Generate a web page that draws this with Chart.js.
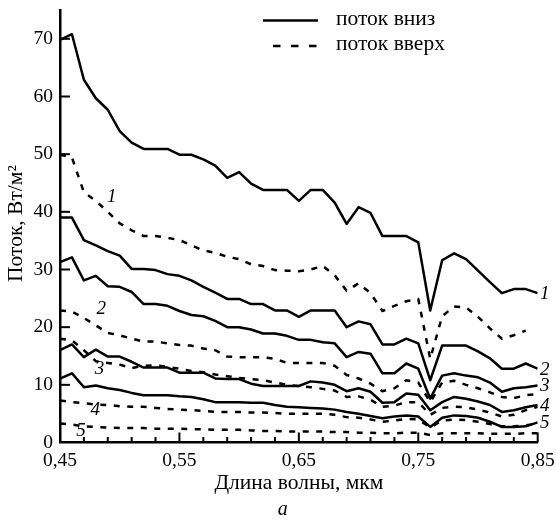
<!DOCTYPE html>
<html>
<head>
<meta charset="utf-8">
<script src="https://cdn.jsdelivr.net/npm/chart.js@4.4.1/dist/chart.umd.min.js"></script>
<style>
  html, body { margin: 0; padding: 0; background: #fff; }
  #grafico { display: block; }
</style>
</head>
<body>
<canvas id="grafico" width="556" height="524"></canvas>
<script>
// Длины волн, мкм (шаг 0,01)
const wavelengths = [0.45, 0.46, 0.47, 0.48, 0.49, 0.50, 0.51, 0.52, 0.53, 0.54,
  0.55, 0.56, 0.57, 0.58, 0.59, 0.60, 0.61, 0.62, 0.63, 0.64,
  0.65, 0.66, 0.67, 0.68, 0.69, 0.70, 0.71, 0.72, 0.73, 0.74,
  0.75, 0.76, 0.77, 0.78, 0.79, 0.80, 0.81, 0.82, 0.83, 0.84, 0.85];

// Поток вниз, Вт/м2
const downFlux1 = [69.8, 70.8, 62.9, 59.7, 57.7, 54.0, 52.0, 50.9, 50.9, 50.9,
  49.9, 49.9, 49.1, 48.0, 45.9, 46.9, 44.9, 43.8, 43.8, 43.8,
  41.9, 43.8, 43.8, 41.6, 37.9, 40.8, 39.8, 35.8, 35.8, 35.8,
  34.7, 22.9, 31.6, 32.8, 31.8, 29.8, 27.8, 25.9, 26.6, 26.6, 25.9];
const downFlux2 = [39.0, 39.0, 35.1, 34.2, 33.2, 32.4, 30.1, 30.1, 29.9, 29.2,
  28.9, 28.1, 27.0, 26.0, 24.9, 24.9, 24.0, 24.0, 22.9, 22.9,
  21.8, 22.9, 22.9, 22.9, 20.0, 21.0, 20.5, 17.0, 17.0, 18.0,
  17.2, 10.8, 16.8, 16.8, 16.8, 15.8, 14.6, 12.8, 12.8, 13.7, 12.8];
const downFlux3 = [31.3, 32.1, 28.1, 28.9, 27.1, 27.0, 26.1, 24.0, 24.0, 23.7,
  22.8, 22.1, 21.9, 21.1, 20.0, 20.0, 19.6, 18.9, 18.9, 18.5,
  17.8, 17.8, 17.4, 17.2, 14.8, 15.7, 15.4, 12.0, 12.0, 13.7,
  12.8, 7.6, 11.6, 12.0, 11.6, 11.3, 10.4, 8.8, 9.4, 9.6, 9.9];
const downFlux4 = [16.0, 17.0, 14.8, 16.1, 14.9, 14.9, 14.0, 13.0, 13.0, 13.0,
  12.1, 12.1, 12.1, 11.1, 11.0, 11.0, 10.2, 9.8, 9.8, 9.8,
  9.8, 10.6, 10.4, 10.0, 8.9, 9.4, 8.8, 6.9, 7.0, 8.5,
  8.3, 5.6, 7.0, 7.9, 7.6, 7.1, 6.5, 5.3, 5.6, 6.1, 6.5];
const downFlux5 = [11.1, 12.0, 9.6, 9.9, 9.4, 9.1, 8.6, 8.2, 8.2, 8.2,
  8.0, 7.9, 7.5, 7.0, 7.0, 7.0, 6.9, 6.9, 6.5, 6.2,
  6.1, 6.0, 5.9, 5.7, 5.3, 5.0, 4.6, 4.2, 4.5, 4.7,
  4.5, 2.7, 4.3, 4.7, 4.6, 4.3, 3.6, 2.7, 2.7, 2.8, 3.5];

// Поток вверх, Вт/м2
const upFlux1 = [49.9, 49.4, 43.4, 41.9, 40.0, 38.0, 36.8, 35.8, 35.8, 35.5,
  35.1, 34.2, 33.3, 32.9, 32.2, 31.8, 30.9, 30.6, 29.9, 29.8,
  29.7, 30.0, 30.6, 29.0, 26.3, 27.6, 25.9, 22.8, 23.7, 24.5,
  24.9, 14.5, 21.9, 23.6, 23.4, 21.8, 19.8, 18.0, 18.6, 19.4, null];
const upFlux2 = [22.9, 22.7, 21.6, 20.3, 19.0, 18.6, 18.0, 17.5, 17.5, 17.2,
  16.9, 16.8, 16.3, 16.0, 14.9, 14.8, 14.8, 14.8, 14.5, 13.8,
  13.8, 13.8, 13.8, 13.3, 11.7, 11.1, 10.2, 8.9, 9.4, 10.8,
  10.4, 7.0, 10.4, 10.7, 10.0, 9.4, 8.7, 7.9, 7.7, 8.2, 8.4];
const upFlux3 = [18.0, 17.7, 16.0, 14.1, 13.8, 13.5, 12.9, 13.3, 13.4, 13.1,
  12.8, 12.4, 12.2, 11.8, 11.5, 11.2, 11.0, 10.8, 10.4, 10.0,
  9.8, 9.6, 9.3, 9.0, 7.9, 8.0, 7.4, 6.2, 6.4, 7.0,
  7.0, 4.8, 6.0, 6.2, 6.1, 5.7, 5.2, 4.5, 4.8, 5.6, 6.2];
const upFlux4 = [7.3, 7.0, 6.8, 6.6, 6.5, 6.3, 6.2, 6.2, 6.0, 5.8,
  5.7, 5.6, 5.5, 5.3, 5.3, 5.3, 5.2, 5.2, 5.1, 5.0,
  5.0, 5.0, 5.0, 4.8, 4.4, 4.3, 4.0, 3.6, 3.8, 4.1,
  4.0, 2.6, 3.8, 4.0, 3.9, 3.6, 3.2, 2.8, 2.8, 3.0, 3.2];
const upFlux5 = [3.3, 3.1, 2.8, 2.7, 2.6, 2.5, 2.5, 2.5, 2.4, 2.4,
  2.4, 2.3, 2.3, 2.2, 2.2, 2.2, 2.1, 2.0, 2.0, 1.9,
  1.9, 1.9, 1.9, 1.8, 1.8, 1.7, 1.7, 1.6, 1.6, 1.7,
  1.7, 1.3, 1.6, 1.6, 1.6, 1.6, 1.5, 1.5, 1.5, 1.6, 1.6];

// Деления и подписи осей
const xTickValues = [0.45, 0.47, 0.49, 0.51, 0.53, 0.55, 0.57, 0.59, 0.61, 0.63, 0.65,
  0.67, 0.69, 0.71, 0.73, 0.75, 0.77, 0.79, 0.81, 0.83, 0.85];
const xLabelValues = [0.45, 0.55, 0.65, 0.75, 0.85];
const xLabelTexts = ['0,45', '0,55', '0,65', '0,75', '0,85'];
const yTickValues = [0, 10, 20, 30, 40, 50, 60, 70];

// Номера кривых у левого края (длина волны, поток)
const curveNumbers = ['1', '2', '3', '4', '5'];
const leftNumberAt = [[0.4933, 42.6], [0.4845, 23.2], [0.4830, 12.7], [0.4796, 5.6], [0.4676, 2.0]];

const FONT = '"Liberation Serif", "Times New Roman", serif';
Chart.defaults.font.family = FONT;
Chart.defaults.color = '#000';

function pontos(valores) {
  return wavelengths.map((x, i) => ({ x, y: valores[i] }));
}

function indiceLabel(v) {
  return xLabelValues.findIndex((l) => Math.abs(l - v) < 1e-6);
}

const downSeries = [downFlux1, downFlux2, downFlux3, downFlux4, downFlux5];
const upSeries = [upFlux1, upFlux2, upFlux3, upFlux4, upFlux5];

const datasets = [
  ...downSeries.map((s, i) => ({
    label: 'поток вниз ' + (i + 1), data: pontos(s),
    borderColor: '#000', borderWidth: 2.5, pointRadius: 0, tension: 0,
    borderJoinStyle: 'round'
  })),
  ...upSeries.map((s, i) => ({
    label: 'поток вверх ' + (i + 1), data: pontos(s),
    borderColor: '#000', borderWidth: 2.5, pointRadius: 0, tension: 0,
    borderDash: [6, 7.5], borderJoinStyle: 'round'
  }))
];

const decorPlugin = {
  id: 'decor',
  afterDraw(chart) {
    const { ctx, chartArea, scales: { x, y } } = chart;
    ctx.save();
    ctx.strokeStyle = '#000';
    ctx.fillStyle = '#000';
    ctx.lineWidth = 2;
    ctx.lineCap = 'butt';

    // внутренние деления
    yTickValues.forEach((v) => {
      if (v === 0) return;
      const py = y.getPixelForValue(v);
      ctx.beginPath(); ctx.moveTo(chartArea.left, py); ctx.lineTo(chartArea.left + 10, py); ctx.stroke();
    });
    xTickValues.forEach((v) => {
      const px = x.getPixelForValue(v);
      const len = indiceLabel(v) >= 0 ? 10 : 5.5;
      ctx.beginPath(); ctx.moveTo(px, chartArea.bottom); ctx.lineTo(px, chartArea.bottom - len); ctx.stroke();
    });

    // легенда
    ctx.lineWidth = 2.5;
    ctx.beginPath(); ctx.moveTo(263, 20.5); ctx.lineTo(318, 20.5); ctx.stroke();
    ctx.setLineDash([7.5, 10.5]);
    ctx.lineDashOffset = -10;
    ctx.beginPath(); ctx.moveTo(263, 46); ctx.lineTo(318, 46); ctx.stroke();
    ctx.setLineDash([]);
    ctx.font = `21.5px ${FONT}`;
    ctx.textAlign = 'left';
    ctx.textBaseline = 'middle';
    ctx.fillText('поток вниз', 336, 19.5);
    ctx.fillText('поток вверх', 336, 44.5);

    // номера кривых
    ctx.font = `italic 19px ${FONT}`;
    ctx.textAlign = 'center';
    downSeries.forEach((s, i) => {
      const last = s[s.length - 1];
      ctx.fillText(curveNumbers[i], x.getPixelForValue(0.85) + 7, y.getPixelForValue(last) + 1);
    });
    leftNumberAt.forEach(([wl, v], i) => {
      ctx.fillText(curveNumbers[i], x.getPixelForValue(wl), y.getPixelForValue(v));
    });

    // подпись рисунка
    ctx.font = `italic 20px ${FONT}`;
    ctx.fillText('а', (chartArea.left + chartArea.right) / 2 - 16, 510);
    ctx.restore();
  }
};

new Chart(document.getElementById('grafico'), {
  type: 'line',
  data: { datasets },
  plugins: [decorPlugin],
  options: {
    responsive: false,
    animation: false,
    events: [],
    layout: { padding: 0 },
    plugins: { legend: { display: false }, tooltip: { enabled: false } },
    scales: {
      x: {
        type: 'linear', min: 0.45, max: 0.85,
        afterBuildTicks: (s) => { s.ticks = xTickValues.map((v) => ({ value: v })); },
        afterFit: (s) => { s.height = 81.5; s.paddingLeft = 0; s.paddingRight = 18.3; },
        ticks: {
          autoSkip: false, maxRotation: 0, padding: 7, font: { size: 19.5 }, color: '#000',
          callback: (v) => { const i = indiceLabel(v); return i >= 0 ? xLabelTexts[i] : ''; }
        },
        grid: { display: false, drawTicks: false },
        border: { display: true, color: '#000', width: 2.5 },
        title: { display: true, text: 'Длина волны, мкм', font: { size: 21.5 }, color: '#000', padding: { top: 0, bottom: 27.5 } }
      },
      y: {
        type: 'linear', min: 0, max: 75,
        afterBuildTicks: (s) => { s.ticks = yTickValues.map((v) => ({ value: v })); },
        afterFit: (s) => { s.width = 60; s.paddingTop = 10; s.paddingBottom = 0; },
        ticks: { padding: 7, font: { size: 19.5 }, color: '#000' },
        grid: { display: false, drawTicks: false },
        border: { display: true, color: '#000', width: 2.5 },
        title: { display: true, text: ' Поток, Вт/м²', font: { size: 21.5 }, color: '#000', padding: { top: 3, bottom: 0 } }
      }
    }
  }
});
</script>
</body>
</html>
